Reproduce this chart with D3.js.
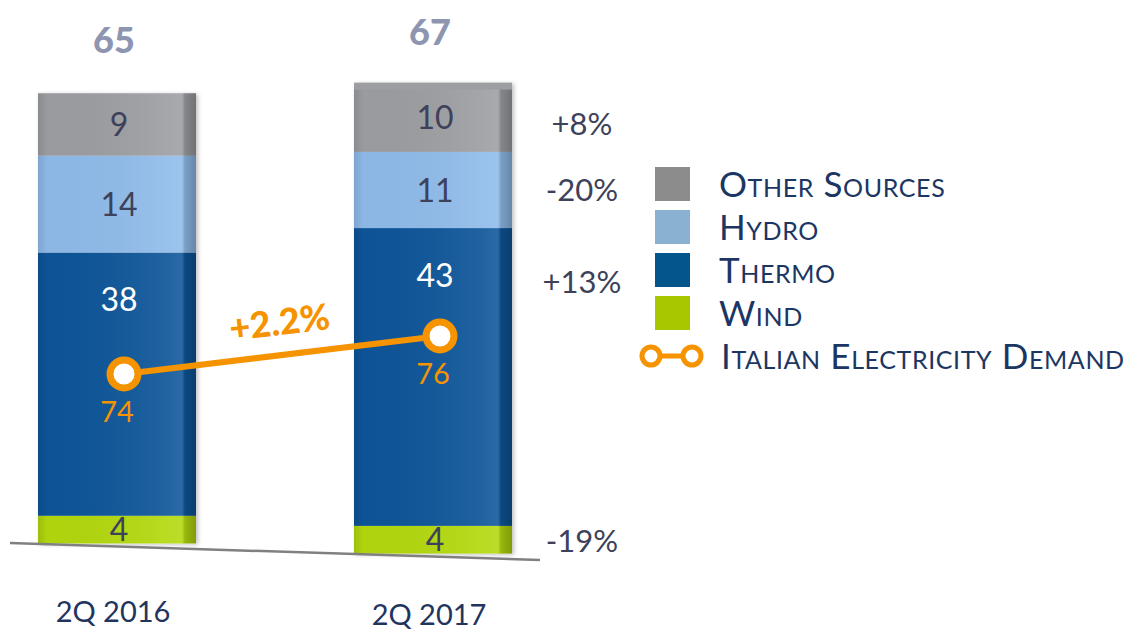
<!DOCTYPE html>
<html>
<head>
<meta charset="utf-8">
<script src="https://cdnjs.cloudflare.com/ajax/libs/d3/7.8.5/d3.min.js"></script>
<style>
  html, body { margin: 0; padding: 0; background: #fff; }
  svg { display: block; font-family: Lato, "Open Sans", sans-serif; }
</style>
</head>
<body>
<div id="chart"></div>
<script>
// data
var periods = ["2Q 2016", "2Q 2017"];
var sources = ["Wind", "Thermo", "Hydro", "Other Sources"];
var wind   = [4, 4];
var thermo = [38, 43];
var hydro  = [14, 11];
var other  = [9, 10];
var totals = [65, 67];
var demand = [74, 76];
var demandChange = "+2.2%";
var changes = ["-19%", "+13%", "-20%", "+8%"]; // wind, thermo, hydro, other

var width = 1145, height = 634;
var svg = d3.select("#chart").append("svg")
    .attr("width", width).attr("height", height);

var barColors = {"Wind": "#b3d811", "Thermo": "#0b5499", "Hydro": "#8fbbea", "Other Sources": "#9d9ea2"};
var legendColors = {"Wind": "#a8c700", "Thermo": "#03558c", "Hydro": "#8ab0d2", "Other Sources": "#8c8c8c"};
var textColors = {"Wind": "#3d4159", "Thermo": "#ffffff", "Hydro": "#3d4159", "Other Sources": "#3d4159"};
var orange = "#f59300";

// scales
var x = d3.scalePoint().domain(periods).range([117, 433]);
var barW = 158;
var h = d3.scaleLinear().domain([0, 67]).range([0, 464]);
// slanted floor line
var floorLine = d3.scaleLinear().domain([10, 540]).range([543, 560]);
function bottomOf(p) { return floorLine(x(p)) - 3; }
var yDemand = d3.scaleLinear().domain([74, 76]).range([374, 336]);

// stacked data
var table = periods.map(function (p, i) {
  return {period: p, "Wind": wind[i], "Thermo": thermo[i], "Hydro": hydro[i], "Other Sources": other[i], total: totals[i], demand: demand[i]};
});
var stack = d3.stack().keys(sources)(table);

// gradient for pseudo 3D look
var defs = svg.append("defs");
var grad = defs.append("linearGradient").attr("id", "shade").attr("x1", 0).attr("x2", 1).attr("y1", 0).attr("y2", 0);
grad.append("stop").attr("offset", "0%").attr("stop-color", "#000").attr("stop-opacity", 0.12);
grad.append("stop").attr("offset", "6%").attr("stop-color", "#000").attr("stop-opacity", 0.02);
grad.append("stop").attr("offset", "80%").attr("stop-color", "#fff").attr("stop-opacity", 0.08);
grad.append("stop").attr("offset", "91%").attr("stop-color", "#fff").attr("stop-opacity", 0.12);
grad.append("stop").attr("offset", "93%").attr("stop-color", "#000").attr("stop-opacity", 0.15);
grad.append("stop").attr("offset", "100%").attr("stop-color", "#000").attr("stop-opacity", 0.28);
var blur = defs.append("filter").attr("id", "shadow").attr("x", "-10%").attr("y", "-10%").attr("width", "130%").attr("height", "130%");
blur.append("feDropShadow").attr("dx", 2).attr("dy", 1).attr("stdDeviation", 2).attr("flood-opacity", 0.25);

// bars
var layers = svg.append("g").attr("filter", "url(#shadow)");
stack.forEach(function (layer) {
  layers.selectAll(null)
    .data(layer)
    .enter().append("rect")
    .attr("x", function (d) { return x(d.data.period) - barW / 2; })
    .attr("y", function (d) { return bottomOf(d.data.period) - h(d[1]); })
    .attr("width", barW)
    .attr("height", function (d) { return h(d[1]) - h(d[0]); })
    .attr("fill", barColors[layer.key]);
});
svg.append("g").selectAll("rect")
  .data(table)
  .enter().append("rect")
  .attr("x", function (d) { return x(d.period) - barW / 2; })
  .attr("y", function (d) { return bottomOf(d.period) - h(d.total); })
  .attr("width", barW)
  .attr("height", function (d) { return h(d.total); })
  .attr("fill", "url(#shade)");

// segment labels
stack.forEach(function (layer) {
  svg.append("g").selectAll("text")
    .data(layer)
    .enter().append("text")
    .attr("x", function (d) { return x(d.data.period) + 2; })
    .attr("y", function (d) {
      var mid = (h(d[0]) + h(d[1])) / 2;
      var off = layer.key === "Thermo" ? -h(d[1] - d[0]) / 2 + 47 : 0;
      return bottomOf(d.data.period) - mid + off;
    })
    .attr("dy", "0.36em")
    .attr("text-anchor", "middle")
    .attr("font-size", 32)
    .attr("fill", textColors[layer.key])
    .text(function (d) { return d[1] - d[0]; });
});

// totals
svg.append("g").selectAll("text")
  .data(table)
  .enter().append("text")
  .attr("x", function (d) { return x(d.period) - 3; })
  .attr("y", function (d, i) { return bottomOf(d.period) - h(d.total) - 40 - i * 5; })
  .attr("text-anchor", "middle")
  .attr("font-size", 36)
  .attr("font-weight", "900")
  .attr("fill", "#8e95b0")
  .text(function (d) { return d.total; });

// floor line
svg.append("line")
  .attr("x1", 10).attr("y1", floorLine(10))
  .attr("x2", 540).attr("y2", floorLine(540))
  .attr("stroke", "#808080").attr("stroke-width", 2.5);

// category labels
svg.append("g").selectAll("text")
  .data(periods)
  .enter().append("text")
  .attr("x", function (d) { return x(d) - 4; })
  .attr("y", function (d, i) { return 622 + i * 3; })
  .attr("text-anchor", "middle")
  .attr("font-size", 29)
  .attr("fill", "#1f3560")
  .text(function (d) { return d; });

// demand line
var line = d3.line()
  .x(function (d) { return x(d.period) + 7; })
  .y(function (d) { return yDemand(d.demand); });
svg.append("path").datum(table)
  .attr("d", line)
  .attr("fill", "none")
  .attr("stroke", orange)
  .attr("stroke-width", 6);
svg.append("g").selectAll("circle")
  .data(table)
  .enter().append("circle")
  .attr("cx", function (d) { return x(d.period) + 7; })
  .attr("cy", function (d) { return yDemand(d.demand); })
  .attr("r", 14)
  .attr("fill", "#fff")
  .attr("stroke", orange)
  .attr("stroke-width", 7);
svg.append("g").selectAll("text")
  .data(table)
  .enter().append("text")
  .attr("x", function (d) { return x(d.period); })
  .attr("y", function (d) { return yDemand(d.demand) + 48; })
  .attr("text-anchor", "middle")
  .attr("font-size", 29)
  .attr("fill", orange)
  .text(function (d) { return d.demand; });
svg.append("text")
  .attr("transform", "translate(281,335) rotate(-7)")
  .attr("text-anchor", "middle")
  .attr("font-size", 36)
  .attr("font-weight", "900")
  .attr("fill", orange)
  .text(demandChange);

// change percentages, one per source
var changeY = [541, 282, 190, 124];
svg.append("g").selectAll("text")
  .data(changes)
  .enter().append("text")
  .attr("x", 582)
  .attr("y", function (d, i) { return changeY[i]; })
  .attr("dy", "0.36em")
  .attr("text-anchor", "middle")
  .attr("font-size", 31)
  .attr("fill", "#3d4159")
  .text(function (d) { return d; });

// legend
var legendItems = sources.slice().reverse();
var lg = svg.append("g").attr("transform", "translate(655,167)");
var rows = lg.selectAll("g")
  .data(legendItems)
  .enter().append("g")
  .attr("transform", function (d, i) { return "translate(0," + i * 43 + ")"; });
rows.append("rect")
  .attr("width", 35).attr("height", 34)
  .attr("fill", function (d) { return legendColors[d]; });
rows.append("text")
  .attr("x", 64).attr("y", 17)
  .attr("dy", "0.36em")
  .attr("font-size", 35)
  .attr("letter-spacing", 0.6)
  .attr("font-variant", "small-caps")
  .attr("fill", "#1c3663")
  .text(function (d) { return d; });

var dl = lg.append("g").attr("transform", "translate(0," + (4 * 43 + 17) + ")");
dl.append("line").attr("x1", -8).attr("x2", 42).attr("y1", 0).attr("y2", 0)
  .attr("stroke", orange).attr("stroke-width", 5);
dl.selectAll("circle").data([-4, 37]).enter().append("circle")
  .attr("cx", function (d) { return d; }).attr("cy", 0).attr("r", 9)
  .attr("fill", "#fff").attr("stroke", orange).attr("stroke-width", 5);
dl.append("text")
  .attr("x", 66).attr("y", 0)
  .attr("dy", "0.36em")
  .attr("font-size", 35)
  .attr("letter-spacing", 0.6)
  .attr("font-variant", "small-caps")
  .attr("fill", "#1c3663")
  .text("Italian Electricity Demand");
</script>
</body>
</html>
